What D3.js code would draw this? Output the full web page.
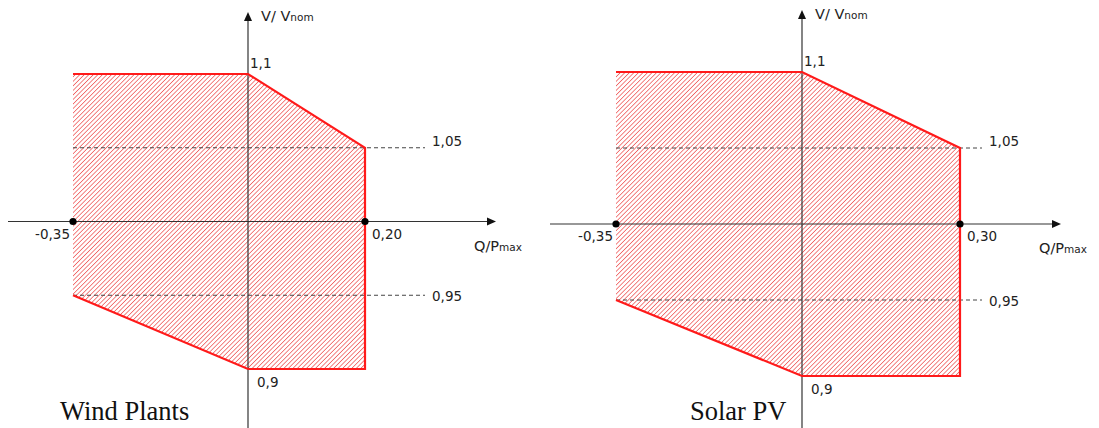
<!DOCTYPE html>
<html><head><meta charset="utf-8">
<script src="https://cdn.jsdelivr.net/npm/d3@7"></script>
<style>html,body{margin:0;padding:0;background:#fff;}svg{display:block;}</style>
</head><body>
<svg id="c" width="1099" height="428"></svg>
<script>
// ---- data ----
const panels = ["Wind Plants", "Solar PV"];
const windQ = [-0.35, 0, 0.20, 0.20, 0, -0.35];
const windV = [1.1, 1.1, 1.05, 0.9, 0.9, 0.95];
const solarQ = [-0.35, 0, 0.30, 0.30, 0, -0.35];
const solarV = [1.1, 1.1, 1.05, 0.9, 0.9, 0.95];
const windQTicks = [-0.35, 0.20];
const solarQTicks = [-0.35, 0.30];
const qTickLabelsWind = ["-0,35", "0,20"];
const qTickLabelsSolar = ["-0,35", "0,30"];
const vTicks = [1.1, 1.05, 0.95, 0.9];
const vTickLabels = ["1,1", "1,05", "0,95", "0,9"];
const dashedV = [1.05, 0.95];

const svg = d3.select("#c");
const defs = svg.append("defs");
const pat = defs.append("pattern").attr("id","hatch").attr("patternUnits","userSpaceOnUse")
  .attr("width",3.2).attr("height",3.2).attr("patternTransform","rotate(45)");
pat.append("rect").attr("width",3.2).attr("height",3.2).attr("fill","#fff");
pat.append("line").attr("x1",0).attr("y1",0).attr("x2",0).attr("y2",3.2)
  .attr("stroke","#f06464").attr("stroke-width",1.6);

const axisColor = "#333";
const font = "'DejaVu Sans', Verdana, sans-serif";
const fs = 13.5;

const cfg = [
  {Q: windQ, V: windV, qd: [-0.35, 0, 0.20], qr: [73, 248, 365], vr: [369, 74],
   qTicks: windQTicks, qLabels: qTickLabelsWind, xAxis: [8, 496], yAxis: [12, 428],
   dashEnd: 425, title: panels[0], titleX: 60},
  {Q: solarQ, V: solarV, qd: [-0.35, 0, 0.30], qr: [616, 802, 960], vr: [376, 72],
   qTicks: solarQTicks, qLabels: qTickLabelsSolar, xAxis: [550, 1061], yAxis: [10, 428],
   dashEnd: 982, title: panels[1], titleX: 690}
];

cfg.forEach(c => {
  const x = d3.scaleLinear().domain(c.qd).range(c.qr);
  const y = d3.scaleLinear().domain([0.9, 1.1]).range(c.vr);
  const g = svg.append("g");
  const pts = c.Q.map((q, i) => [x(q), y(c.V[i])]);

  g.append("path").attr("d", d3.line()(pts) + "Z")
    .attr("fill", "url(#hatch)").attr("stroke", "none");

  dashedV.forEach(v => {
    g.append("line").attr("x1", x(-0.35)).attr("x2", c.dashEnd)
      .attr("y1", y(v)).attr("y2", y(v))
      .attr("stroke", "#444").attr("stroke-width", 1).attr("stroke-dasharray", "4,3");
  });

  const y0 = y(1.0), x0 = x(0);
  g.append("line").attr("x1", c.xAxis[0]).attr("x2", c.xAxis[1] - 6)
    .attr("y1", y0).attr("y2", y0).attr("stroke", axisColor).attr("stroke-width", 1.2);
  g.append("path").attr("d", `M${c.xAxis[1]},${y0} L${c.xAxis[1]-9},${y0-4} L${c.xAxis[1]-9},${y0+4}Z`).attr("fill", "#111");
  g.append("line").attr("x1", x0).attr("x2", x0)
    .attr("y1", c.yAxis[0] + 6).attr("y2", c.yAxis[1]).attr("stroke", axisColor).attr("stroke-width", 1.2);
  g.append("path").attr("d", `M${x0},${c.yAxis[0]} L${x0-4},${c.yAxis[0]+9} L${x0+4},${c.yAxis[0]+9}Z`).attr("fill", "#111");

  g.append("path").attr("d", d3.line()(pts))
    .attr("fill", "none").attr("stroke", "#ff1a1a").attr("stroke-width", 2.2);

  c.qTicks.forEach(q => {
    g.append("circle").attr("cx", x(q)).attr("cy", y0).attr("r", 3.6).attr("fill", "#000");
  });

  const txt = (xx, yy, s, anchor) => g.append("text").attr("x", xx).attr("y", yy)
    .attr("text-anchor", anchor || "start").attr("font-family", font).attr("font-size", fs)
    .attr("fill", "#222").text(s);

  txt(x(c.qTicks[0]) - 3, y0 + 17, c.qLabels[0], "end");
  txt(x(c.qTicks[1]) + 7, y0 + 17, c.qLabels[1]);
  txt(x0 + 2, y(vTicks[0]) - 6, vTickLabels[0]);
  txt(c.dashEnd + 7, y(vTicks[1]) - 2, vTickLabels[1]);
  txt(c.dashEnd + 7, y(vTicks[2]) + 6, vTickLabels[2]);
  txt(x0 + 9, y(vTicks[3]) + 18, vTickLabels[3]);

  const vt = g.append("text").attr("x", x0 + 13).attr("y", c.yAxis[0] + 9)
    .attr("font-family", font).attr("font-size", 14.5).attr("fill", "#222");
  vt.append("tspan").text("V/ V");
  vt.append("tspan").attr("font-size", 10.5).text("nom");
  const qt = g.append("text").attr("x", c.xAxis[1] - 22).attr("y", y0 + 29)
    .attr("font-family", font).attr("font-size", 14.5).attr("fill", "#222");
  qt.append("tspan").text("Q/P");
  qt.append("tspan").attr("font-size", 10.5).text("max");

  g.append("text").attr("x", c.titleX).attr("y", 420)
    .attr("font-family", "'Liberation Serif', 'Times New Roman', serif").attr("font-size", 26.5)
    .attr("fill", "#111").text(c.title);
});
</script>
</body></html>
